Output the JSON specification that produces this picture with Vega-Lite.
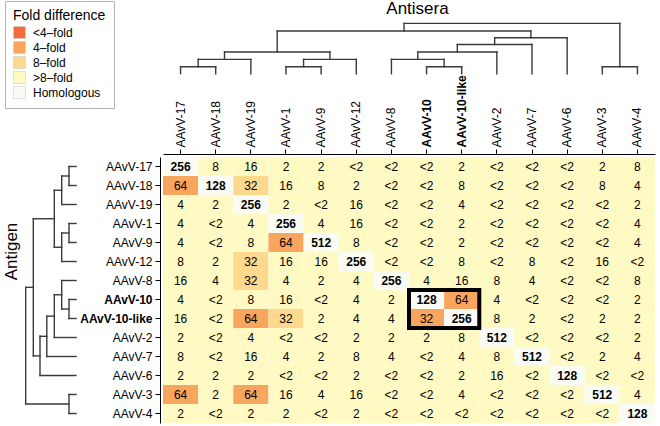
{
"$schema": "https://vega.github.io/schema/vega-lite/v6.json",
"width": 492, "height": 266,
"autosize": {"type": "none"},
"padding": {"left": 163, "top": 157, "right": 5, "bottom": 3},
"config": {"view": {"stroke": null}, "font": "Liberation Sans"},
"datasets": {
"cells": [
{"antigen":"AAvV-17","antiserum":"AAvV-17","titer":"256","fold":"Homologous"},
{"antigen":"AAvV-17","antiserum":"AAvV-18","titer":"8","fold":">8–fold"},
{"antigen":"AAvV-17","antiserum":"AAvV-19","titer":"16","fold":">8–fold"},
{"antigen":"AAvV-17","antiserum":"AAvV-1","titer":"2","fold":">8–fold"},
{"antigen":"AAvV-17","antiserum":"AAvV-9","titer":"2","fold":">8–fold"},
{"antigen":"AAvV-17","antiserum":"AAvV-12","titer":"<2","fold":">8–fold"},
{"antigen":"AAvV-17","antiserum":"AAvV-8","titer":"<2","fold":">8–fold"},
{"antigen":"AAvV-17","antiserum":"AAvV-10","titer":"<2","fold":">8–fold"},
{"antigen":"AAvV-17","antiserum":"AAvV-10-like","titer":"2","fold":">8–fold"},
{"antigen":"AAvV-17","antiserum":"AAvV-2","titer":"<2","fold":">8–fold"},
{"antigen":"AAvV-17","antiserum":"AAvV-7","titer":"<2","fold":">8–fold"},
{"antigen":"AAvV-17","antiserum":"AAvV-6","titer":"<2","fold":">8–fold"},
{"antigen":"AAvV-17","antiserum":"AAvV-3","titer":"2","fold":">8–fold"},
{"antigen":"AAvV-17","antiserum":"AAvV-4","titer":"8","fold":">8–fold"},
{"antigen":"AAvV-18","antiserum":"AAvV-17","titer":"64","fold":"4–fold"},
{"antigen":"AAvV-18","antiserum":"AAvV-18","titer":"128","fold":"Homologous"},
{"antigen":"AAvV-18","antiserum":"AAvV-19","titer":"32","fold":"8–fold"},
{"antigen":"AAvV-18","antiserum":"AAvV-1","titer":"16","fold":">8–fold"},
{"antigen":"AAvV-18","antiserum":"AAvV-9","titer":"8","fold":">8–fold"},
{"antigen":"AAvV-18","antiserum":"AAvV-12","titer":"2","fold":">8–fold"},
{"antigen":"AAvV-18","antiserum":"AAvV-8","titer":"<2","fold":">8–fold"},
{"antigen":"AAvV-18","antiserum":"AAvV-10","titer":"<2","fold":">8–fold"},
{"antigen":"AAvV-18","antiserum":"AAvV-10-like","titer":"8","fold":">8–fold"},
{"antigen":"AAvV-18","antiserum":"AAvV-2","titer":"<2","fold":">8–fold"},
{"antigen":"AAvV-18","antiserum":"AAvV-7","titer":"<2","fold":">8–fold"},
{"antigen":"AAvV-18","antiserum":"AAvV-6","titer":"<2","fold":">8–fold"},
{"antigen":"AAvV-18","antiserum":"AAvV-3","titer":"8","fold":">8–fold"},
{"antigen":"AAvV-18","antiserum":"AAvV-4","titer":"4","fold":">8–fold"},
{"antigen":"AAvV-19","antiserum":"AAvV-17","titer":"4","fold":">8–fold"},
{"antigen":"AAvV-19","antiserum":"AAvV-18","titer":"2","fold":">8–fold"},
{"antigen":"AAvV-19","antiserum":"AAvV-19","titer":"256","fold":"Homologous"},
{"antigen":"AAvV-19","antiserum":"AAvV-1","titer":"2","fold":">8–fold"},
{"antigen":"AAvV-19","antiserum":"AAvV-9","titer":"<2","fold":">8–fold"},
{"antigen":"AAvV-19","antiserum":"AAvV-12","titer":"16","fold":">8–fold"},
{"antigen":"AAvV-19","antiserum":"AAvV-8","titer":"<2","fold":">8–fold"},
{"antigen":"AAvV-19","antiserum":"AAvV-10","titer":"<2","fold":">8–fold"},
{"antigen":"AAvV-19","antiserum":"AAvV-10-like","titer":"4","fold":">8–fold"},
{"antigen":"AAvV-19","antiserum":"AAvV-2","titer":"<2","fold":">8–fold"},
{"antigen":"AAvV-19","antiserum":"AAvV-7","titer":"<2","fold":">8–fold"},
{"antigen":"AAvV-19","antiserum":"AAvV-6","titer":"<2","fold":">8–fold"},
{"antigen":"AAvV-19","antiserum":"AAvV-3","titer":"<2","fold":">8–fold"},
{"antigen":"AAvV-19","antiserum":"AAvV-4","titer":"2","fold":">8–fold"},
{"antigen":"AAvV-1","antiserum":"AAvV-17","titer":"4","fold":">8–fold"},
{"antigen":"AAvV-1","antiserum":"AAvV-18","titer":"<2","fold":">8–fold"},
{"antigen":"AAvV-1","antiserum":"AAvV-19","titer":"4","fold":">8–fold"},
{"antigen":"AAvV-1","antiserum":"AAvV-1","titer":"256","fold":"Homologous"},
{"antigen":"AAvV-1","antiserum":"AAvV-9","titer":"4","fold":">8–fold"},
{"antigen":"AAvV-1","antiserum":"AAvV-12","titer":"16","fold":">8–fold"},
{"antigen":"AAvV-1","antiserum":"AAvV-8","titer":"<2","fold":">8–fold"},
{"antigen":"AAvV-1","antiserum":"AAvV-10","titer":"<2","fold":">8–fold"},
{"antigen":"AAvV-1","antiserum":"AAvV-10-like","titer":"2","fold":">8–fold"},
{"antigen":"AAvV-1","antiserum":"AAvV-2","titer":"<2","fold":">8–fold"},
{"antigen":"AAvV-1","antiserum":"AAvV-7","titer":"<2","fold":">8–fold"},
{"antigen":"AAvV-1","antiserum":"AAvV-6","titer":"<2","fold":">8–fold"},
{"antigen":"AAvV-1","antiserum":"AAvV-3","titer":"<2","fold":">8–fold"},
{"antigen":"AAvV-1","antiserum":"AAvV-4","titer":"4","fold":">8–fold"},
{"antigen":"AAvV-9","antiserum":"AAvV-17","titer":"4","fold":">8–fold"},
{"antigen":"AAvV-9","antiserum":"AAvV-18","titer":"<2","fold":">8–fold"},
{"antigen":"AAvV-9","antiserum":"AAvV-19","titer":"8","fold":">8–fold"},
{"antigen":"AAvV-9","antiserum":"AAvV-1","titer":"64","fold":"4–fold"},
{"antigen":"AAvV-9","antiserum":"AAvV-9","titer":"512","fold":"Homologous"},
{"antigen":"AAvV-9","antiserum":"AAvV-12","titer":"8","fold":">8–fold"},
{"antigen":"AAvV-9","antiserum":"AAvV-8","titer":"<2","fold":">8–fold"},
{"antigen":"AAvV-9","antiserum":"AAvV-10","titer":"<2","fold":">8–fold"},
{"antigen":"AAvV-9","antiserum":"AAvV-10-like","titer":"2","fold":">8–fold"},
{"antigen":"AAvV-9","antiserum":"AAvV-2","titer":"<2","fold":">8–fold"},
{"antigen":"AAvV-9","antiserum":"AAvV-7","titer":"<2","fold":">8–fold"},
{"antigen":"AAvV-9","antiserum":"AAvV-6","titer":"<2","fold":">8–fold"},
{"antigen":"AAvV-9","antiserum":"AAvV-3","titer":"<2","fold":">8–fold"},
{"antigen":"AAvV-9","antiserum":"AAvV-4","titer":"4","fold":">8–fold"},
{"antigen":"AAvV-12","antiserum":"AAvV-17","titer":"8","fold":">8–fold"},
{"antigen":"AAvV-12","antiserum":"AAvV-18","titer":"2","fold":">8–fold"},
{"antigen":"AAvV-12","antiserum":"AAvV-19","titer":"32","fold":"8–fold"},
{"antigen":"AAvV-12","antiserum":"AAvV-1","titer":"16","fold":">8–fold"},
{"antigen":"AAvV-12","antiserum":"AAvV-9","titer":"16","fold":">8–fold"},
{"antigen":"AAvV-12","antiserum":"AAvV-12","titer":"256","fold":"Homologous"},
{"antigen":"AAvV-12","antiserum":"AAvV-8","titer":"<2","fold":">8–fold"},
{"antigen":"AAvV-12","antiserum":"AAvV-10","titer":"<2","fold":">8–fold"},
{"antigen":"AAvV-12","antiserum":"AAvV-10-like","titer":"8","fold":">8–fold"},
{"antigen":"AAvV-12","antiserum":"AAvV-2","titer":"<2","fold":">8–fold"},
{"antigen":"AAvV-12","antiserum":"AAvV-7","titer":"8","fold":">8–fold"},
{"antigen":"AAvV-12","antiserum":"AAvV-6","titer":"<2","fold":">8–fold"},
{"antigen":"AAvV-12","antiserum":"AAvV-3","titer":"16","fold":">8–fold"},
{"antigen":"AAvV-12","antiserum":"AAvV-4","titer":"<2","fold":">8–fold"},
{"antigen":"AAvV-8","antiserum":"AAvV-17","titer":"16","fold":">8–fold"},
{"antigen":"AAvV-8","antiserum":"AAvV-18","titer":"4","fold":">8–fold"},
{"antigen":"AAvV-8","antiserum":"AAvV-19","titer":"32","fold":"8–fold"},
{"antigen":"AAvV-8","antiserum":"AAvV-1","titer":"4","fold":">8–fold"},
{"antigen":"AAvV-8","antiserum":"AAvV-9","titer":"2","fold":">8–fold"},
{"antigen":"AAvV-8","antiserum":"AAvV-12","titer":"4","fold":">8–fold"},
{"antigen":"AAvV-8","antiserum":"AAvV-8","titer":"256","fold":"Homologous"},
{"antigen":"AAvV-8","antiserum":"AAvV-10","titer":"4","fold":">8–fold"},
{"antigen":"AAvV-8","antiserum":"AAvV-10-like","titer":"16","fold":">8–fold"},
{"antigen":"AAvV-8","antiserum":"AAvV-2","titer":"8","fold":">8–fold"},
{"antigen":"AAvV-8","antiserum":"AAvV-7","titer":"4","fold":">8–fold"},
{"antigen":"AAvV-8","antiserum":"AAvV-6","titer":"<2","fold":">8–fold"},
{"antigen":"AAvV-8","antiserum":"AAvV-3","titer":"<2","fold":">8–fold"},
{"antigen":"AAvV-8","antiserum":"AAvV-4","titer":"8","fold":">8–fold"},
{"antigen":"AAvV-10","antiserum":"AAvV-17","titer":"4","fold":">8–fold"},
{"antigen":"AAvV-10","antiserum":"AAvV-18","titer":"<2","fold":">8–fold"},
{"antigen":"AAvV-10","antiserum":"AAvV-19","titer":"8","fold":">8–fold"},
{"antigen":"AAvV-10","antiserum":"AAvV-1","titer":"16","fold":">8–fold"},
{"antigen":"AAvV-10","antiserum":"AAvV-9","titer":"<2","fold":">8–fold"},
{"antigen":"AAvV-10","antiserum":"AAvV-12","titer":"4","fold":">8–fold"},
{"antigen":"AAvV-10","antiserum":"AAvV-8","titer":"2","fold":">8–fold"},
{"antigen":"AAvV-10","antiserum":"AAvV-10","titer":"128","fold":"Homologous"},
{"antigen":"AAvV-10","antiserum":"AAvV-10-like","titer":"64","fold":"4–fold"},
{"antigen":"AAvV-10","antiserum":"AAvV-2","titer":"4","fold":">8–fold"},
{"antigen":"AAvV-10","antiserum":"AAvV-7","titer":"<2","fold":">8–fold"},
{"antigen":"AAvV-10","antiserum":"AAvV-6","titer":"<2","fold":">8–fold"},
{"antigen":"AAvV-10","antiserum":"AAvV-3","titer":"<2","fold":">8–fold"},
{"antigen":"AAvV-10","antiserum":"AAvV-4","titer":"2","fold":">8–fold"},
{"antigen":"AAvV-10-like","antiserum":"AAvV-17","titer":"16","fold":">8–fold"},
{"antigen":"AAvV-10-like","antiserum":"AAvV-18","titer":"<2","fold":">8–fold"},
{"antigen":"AAvV-10-like","antiserum":"AAvV-19","titer":"64","fold":"4–fold"},
{"antigen":"AAvV-10-like","antiserum":"AAvV-1","titer":"32","fold":"8–fold"},
{"antigen":"AAvV-10-like","antiserum":"AAvV-9","titer":"2","fold":">8–fold"},
{"antigen":"AAvV-10-like","antiserum":"AAvV-12","titer":"4","fold":">8–fold"},
{"antigen":"AAvV-10-like","antiserum":"AAvV-8","titer":"4","fold":">8–fold"},
{"antigen":"AAvV-10-like","antiserum":"AAvV-10","titer":"32","fold":"4–fold"},
{"antigen":"AAvV-10-like","antiserum":"AAvV-10-like","titer":"256","fold":"Homologous"},
{"antigen":"AAvV-10-like","antiserum":"AAvV-2","titer":"8","fold":">8–fold"},
{"antigen":"AAvV-10-like","antiserum":"AAvV-7","titer":"2","fold":">8–fold"},
{"antigen":"AAvV-10-like","antiserum":"AAvV-6","titer":"<2","fold":">8–fold"},
{"antigen":"AAvV-10-like","antiserum":"AAvV-3","titer":"2","fold":">8–fold"},
{"antigen":"AAvV-10-like","antiserum":"AAvV-4","titer":"2","fold":">8–fold"},
{"antigen":"AAvV-2","antiserum":"AAvV-17","titer":"2","fold":">8–fold"},
{"antigen":"AAvV-2","antiserum":"AAvV-18","titer":"<2","fold":">8–fold"},
{"antigen":"AAvV-2","antiserum":"AAvV-19","titer":"4","fold":">8–fold"},
{"antigen":"AAvV-2","antiserum":"AAvV-1","titer":"<2","fold":">8–fold"},
{"antigen":"AAvV-2","antiserum":"AAvV-9","titer":"<2","fold":">8–fold"},
{"antigen":"AAvV-2","antiserum":"AAvV-12","titer":"2","fold":">8–fold"},
{"antigen":"AAvV-2","antiserum":"AAvV-8","titer":"2","fold":">8–fold"},
{"antigen":"AAvV-2","antiserum":"AAvV-10","titer":"2","fold":">8–fold"},
{"antigen":"AAvV-2","antiserum":"AAvV-10-like","titer":"8","fold":">8–fold"},
{"antigen":"AAvV-2","antiserum":"AAvV-2","titer":"512","fold":"Homologous"},
{"antigen":"AAvV-2","antiserum":"AAvV-7","titer":"<2","fold":">8–fold"},
{"antigen":"AAvV-2","antiserum":"AAvV-6","titer":"<2","fold":">8–fold"},
{"antigen":"AAvV-2","antiserum":"AAvV-3","titer":"<2","fold":">8–fold"},
{"antigen":"AAvV-2","antiserum":"AAvV-4","titer":"2","fold":">8–fold"},
{"antigen":"AAvV-7","antiserum":"AAvV-17","titer":"8","fold":">8–fold"},
{"antigen":"AAvV-7","antiserum":"AAvV-18","titer":"<2","fold":">8–fold"},
{"antigen":"AAvV-7","antiserum":"AAvV-19","titer":"16","fold":">8–fold"},
{"antigen":"AAvV-7","antiserum":"AAvV-1","titer":"4","fold":">8–fold"},
{"antigen":"AAvV-7","antiserum":"AAvV-9","titer":"2","fold":">8–fold"},
{"antigen":"AAvV-7","antiserum":"AAvV-12","titer":"8","fold":">8–fold"},
{"antigen":"AAvV-7","antiserum":"AAvV-8","titer":"4","fold":">8–fold"},
{"antigen":"AAvV-7","antiserum":"AAvV-10","titer":"<2","fold":">8–fold"},
{"antigen":"AAvV-7","antiserum":"AAvV-10-like","titer":"4","fold":">8–fold"},
{"antigen":"AAvV-7","antiserum":"AAvV-2","titer":"8","fold":">8–fold"},
{"antigen":"AAvV-7","antiserum":"AAvV-7","titer":"512","fold":"Homologous"},
{"antigen":"AAvV-7","antiserum":"AAvV-6","titer":"<2","fold":">8–fold"},
{"antigen":"AAvV-7","antiserum":"AAvV-3","titer":"2","fold":">8–fold"},
{"antigen":"AAvV-7","antiserum":"AAvV-4","titer":"4","fold":">8–fold"},
{"antigen":"AAvV-6","antiserum":"AAvV-17","titer":"2","fold":">8–fold"},
{"antigen":"AAvV-6","antiserum":"AAvV-18","titer":"2","fold":">8–fold"},
{"antigen":"AAvV-6","antiserum":"AAvV-19","titer":"2","fold":">8–fold"},
{"antigen":"AAvV-6","antiserum":"AAvV-1","titer":"<2","fold":">8–fold"},
{"antigen":"AAvV-6","antiserum":"AAvV-9","titer":"<2","fold":">8–fold"},
{"antigen":"AAvV-6","antiserum":"AAvV-12","titer":"2","fold":">8–fold"},
{"antigen":"AAvV-6","antiserum":"AAvV-8","titer":"<2","fold":">8–fold"},
{"antigen":"AAvV-6","antiserum":"AAvV-10","titer":"<2","fold":">8–fold"},
{"antigen":"AAvV-6","antiserum":"AAvV-10-like","titer":"2","fold":">8–fold"},
{"antigen":"AAvV-6","antiserum":"AAvV-2","titer":"16","fold":">8–fold"},
{"antigen":"AAvV-6","antiserum":"AAvV-7","titer":"<2","fold":">8–fold"},
{"antigen":"AAvV-6","antiserum":"AAvV-6","titer":"128","fold":"Homologous"},
{"antigen":"AAvV-6","antiserum":"AAvV-3","titer":"<2","fold":">8–fold"},
{"antigen":"AAvV-6","antiserum":"AAvV-4","titer":"<2","fold":">8–fold"},
{"antigen":"AAvV-3","antiserum":"AAvV-17","titer":"64","fold":"4–fold"},
{"antigen":"AAvV-3","antiserum":"AAvV-18","titer":"2","fold":">8–fold"},
{"antigen":"AAvV-3","antiserum":"AAvV-19","titer":"64","fold":"4–fold"},
{"antigen":"AAvV-3","antiserum":"AAvV-1","titer":"16","fold":">8–fold"},
{"antigen":"AAvV-3","antiserum":"AAvV-9","titer":"4","fold":">8–fold"},
{"antigen":"AAvV-3","antiserum":"AAvV-12","titer":"16","fold":">8–fold"},
{"antigen":"AAvV-3","antiserum":"AAvV-8","titer":"<2","fold":">8–fold"},
{"antigen":"AAvV-3","antiserum":"AAvV-10","titer":"<2","fold":">8–fold"},
{"antigen":"AAvV-3","antiserum":"AAvV-10-like","titer":"4","fold":">8–fold"},
{"antigen":"AAvV-3","antiserum":"AAvV-2","titer":"<2","fold":">8–fold"},
{"antigen":"AAvV-3","antiserum":"AAvV-7","titer":"<2","fold":">8–fold"},
{"antigen":"AAvV-3","antiserum":"AAvV-6","titer":"<2","fold":">8–fold"},
{"antigen":"AAvV-3","antiserum":"AAvV-3","titer":"512","fold":"Homologous"},
{"antigen":"AAvV-3","antiserum":"AAvV-4","titer":"4","fold":">8–fold"},
{"antigen":"AAvV-4","antiserum":"AAvV-17","titer":"2","fold":">8–fold"},
{"antigen":"AAvV-4","antiserum":"AAvV-18","titer":"<2","fold":">8–fold"},
{"antigen":"AAvV-4","antiserum":"AAvV-19","titer":"2","fold":">8–fold"},
{"antigen":"AAvV-4","antiserum":"AAvV-1","titer":"2","fold":">8–fold"},
{"antigen":"AAvV-4","antiserum":"AAvV-9","titer":"<2","fold":">8–fold"},
{"antigen":"AAvV-4","antiserum":"AAvV-12","titer":"2","fold":">8–fold"},
{"antigen":"AAvV-4","antiserum":"AAvV-8","titer":"<2","fold":">8–fold"},
{"antigen":"AAvV-4","antiserum":"AAvV-10","titer":"<2","fold":">8–fold"},
{"antigen":"AAvV-4","antiserum":"AAvV-10-like","titer":"<2","fold":">8–fold"},
{"antigen":"AAvV-4","antiserum":"AAvV-2","titer":"<2","fold":">8–fold"},
{"antigen":"AAvV-4","antiserum":"AAvV-7","titer":"<2","fold":">8–fold"},
{"antigen":"AAvV-4","antiserum":"AAvV-6","titer":"<2","fold":">8–fold"},
{"antigen":"AAvV-4","antiserum":"AAvV-3","titer":"<2","fold":">8–fold"},
{"antigen":"AAvV-4","antiserum":"AAvV-4","titer":"128","fold":"Homologous"}
],
"box": [{"group":"AAvV-10 / AAvV-10-like","start":7,"end":9}],
"tree": [
{"p":0.5,"p2":1.5,"h":7,"h2":7},{"p":0.5,"p2":0.5,"h":0,"h2":7},{"p":1.5,"p2":1.5,"h":0,"h2":7},
{"p":1,"p2":2.5,"h":14.3,"h2":14.3},{"p":1,"p2":1,"h":7,"h2":14.3},{"p":2.5,"p2":2.5,"h":0,"h2":14.3},
{"p":3.5,"p2":4.5,"h":7,"h2":7},{"p":3.5,"p2":3.5,"h":0,"h2":7},{"p":4.5,"p2":4.5,"h":0,"h2":7},
{"p":4,"p2":5.5,"h":14.3,"h2":14.3},{"p":4,"p2":4,"h":7,"h2":14.3},{"p":5.5,"p2":5.5,"h":0,"h2":14.3},
{"p":1.75,"p2":4.75,"h":21.7,"h2":21.7},{"p":1.75,"p2":1.75,"h":14.3,"h2":21.7},{"p":4.75,"p2":4.75,"h":14.3,"h2":21.7},
{"p":7.5,"p2":8.5,"h":7,"h2":7},{"p":7.5,"p2":7.5,"h":0,"h2":7},{"p":8.5,"p2":8.5,"h":0,"h2":7},
{"p":6.5,"p2":8,"h":14.3,"h2":14.3},{"p":6.5,"p2":6.5,"h":0,"h2":14.3},{"p":8,"p2":8,"h":7,"h2":14.3},
{"p":7.25,"p2":9.5,"h":21.7,"h2":21.7},{"p":7.25,"p2":7.25,"h":14.3,"h2":21.7},{"p":9.5,"p2":9.5,"h":0,"h2":21.7},
{"p":8.375,"p2":10.5,"h":29.2,"h2":29.2},{"p":8.375,"p2":8.375,"h":21.7,"h2":29.2},{"p":10.5,"p2":10.5,"h":0,"h2":29.2},
{"p":9.4375,"p2":11.5,"h":36,"h2":36},{"p":9.4375,"p2":9.4375,"h":29.2,"h2":36},{"p":11.5,"p2":11.5,"h":0,"h2":36},
{"p":3.25,"p2":10.46875,"h":42.7,"h2":42.7},{"p":3.25,"p2":3.25,"h":21.7,"h2":42.7},{"p":10.46875,"p2":10.46875,"h":36,"h2":42.7},
{"p":12.5,"p2":13.5,"h":7,"h2":7},{"p":12.5,"p2":12.5,"h":0,"h2":7},{"p":13.5,"p2":13.5,"h":0,"h2":7},
{"p":6.859375,"p2":13,"h":50.3,"h2":50.3},{"p":6.859375,"p2":6.859375,"h":42.7,"h2":50.3},{"p":13,"p2":13,"h":7,"h2":50.3}
]
},
"layer": [
{
"data": {"name": "cells"},
"encoding": {
"x": {"field": "antiserum", "type": "nominal",
"sort": ["AAvV-17","AAvV-18","AAvV-19","AAvV-1","AAvV-9","AAvV-12","AAvV-8","AAvV-10","AAvV-10-like","AAvV-2","AAvV-7","AAvV-6","AAvV-3","AAvV-4"],
"scale": {"paddingInner": 0, "paddingOuter": 0},
"axis": {"orient": "top", "title": "Antisera", "offset": 3, "grid": false,
"labelAngle": 270, "labelAlign": "left", "labelBaseline": "middle", "labelFont": "Liberation Sans", "labelFontSize": 12, "labelColor": "black", "labelPadding": 2,
"labelFontWeight": {"condition": {"test": "datum.value === 'AAvV-10' || datum.value === 'AAvV-10-like'", "value": "bold"}, "value": "normal"},
"tickSize": 5, "tickColor": "black", "domainColor": "black", "domainWidth": 1,
"titleFont": "Liberation Sans", "titleFontSize": 17, "titleFontWeight": 400, "titleColor": "black",
"titleAngle": 0, "titleAlign": "center", "titleBaseline": "alphabetic", "titleX": 254, "titleY": -141}},
"y": {"field": "antigen", "type": "nominal",
"sort": ["AAvV-17","AAvV-18","AAvV-19","AAvV-1","AAvV-9","AAvV-12","AAvV-8","AAvV-10","AAvV-10-like","AAvV-2","AAvV-7","AAvV-6","AAvV-3","AAvV-4"],
"scale": {"paddingInner": 0, "paddingOuter": 0},
"axis": {"orient": "left", "title": "Antigen", "offset": 3, "grid": false,
"labelFont": "Liberation Sans", "labelFontSize": 12, "labelColor": "black", "labelPadding": 3,
"labelFontWeight": {"condition": {"test": "datum.value === 'AAvV-10' || datum.value === 'AAvV-10-like'", "value": "bold"}, "value": "normal"},
"tickSize": 5, "tickColor": "black", "domainColor": "black", "domainWidth": 1,
"titleFont": "Liberation Sans", "titleFontSize": 17, "titleFontWeight": 400, "titleColor": "black",
"titleAngle": 270, "titleAlign": "center", "titleBaseline": "alphabetic", "titleX": -144, "titleY": 94}}
},
"layer": [
{"mark": {"type": "rect"},
"encoding": {"color": {"field": "fold", "type": "nominal",
"scale": {"domain": ["<4–fold","4–fold","8–fold",">8–fold","Homologous"], "range": ["#F26B3B","#F8A55E","#FDD88D","#FFF9C3","#FBFBF5"]},
"legend": {"title": "Fold difference", "orient": "none", "legendX": -158, "legendY": -156,
"strokeColor": "#b5b5b5", "fillColor": "white", "padding": 8, "cornerRadius": 0,
"titleFont": "Liberation Sans", "titleFontSize": 14, "titleFontWeight": 400, "titleColor": "black", "titlePadding": 3,
"labelFont": "Liberation Sans", "labelFontSize": 12, "labelColor": "black", "labelOffset": 7,
"symbolType": "square", "symbolSize": 144, "symbolStrokeColor": "#cccccc", "symbolStrokeWidth": 0.6, "symbolOpacity": 1, "rowPadding": 0}}}},
{"transform": [{"filter": "datum.fold !== 'Homologous'"}],
"mark": {"type": "text", "font": "Liberation Sans", "fontSize": 12, "color": "black"},
"encoding": {"text": {"field": "titer"}}},
{"transform": [{"filter": "datum.fold === 'Homologous'"}],
"mark": {"type": "text", "font": "Liberation Sans", "fontSize": 12, "fontWeight": "bold", "color": "black"},
"encoding": {"text": {"field": "titer"}}}
]
},
{
"data": {"name": "box"},
"mark": {"type": "rect", "fill": null, "fillOpacity": 0, "stroke": "black", "strokeWidth": 4},
"encoding": {
"x": {"field": "start", "type": "quantitative", "scale": {"domain": [0, 14], "nice": false, "zero": false}, "axis": null},
"x2": {"field": "end"},
"y": {"field": "start", "type": "quantitative", "scale": {"domain": [0, 14], "range": [0, 266], "nice": false, "zero": false}, "axis": null},
"y2": {"field": "end"}
}
},
{
"data": {"name": "tree"},
"mark": {"type": "rule", "color": "#3a3a3a", "strokeWidth": 1.4, "strokeCap": "square"},
"encoding": {
"x": {"field": "p", "type": "quantitative", "scale": {"domain": [0, 14], "nice": false, "zero": false}, "axis": null},
"x2": {"field": "p2"},
"y": {"field": "h", "type": "quantitative", "scale": {"domain": [0, 50], "range": [-83.3, -133.3], "nice": false, "zero": false}, "axis": null},
"y2": {"field": "h2"}
}
},
{
"data": {"name": "tree"},
"mark": {"type": "rule", "color": "#3a3a3a", "strokeWidth": 1.4, "strokeCap": "square"},
"encoding": {
"y": {"field": "p", "type": "quantitative", "scale": {"domain": [0, 14], "range": [0, 266], "nice": false, "zero": false}, "axis": null},
"y2": {"field": "p2"},
"x": {"field": "h", "type": "quantitative", "scale": {"domain": [0, 50], "range": [-87, -137], "nice": false, "zero": false}, "axis": null},
"x2": {"field": "h2"}
}
}
],
"resolve": {"scale": {"x": "independent", "y": "independent"}}
}
